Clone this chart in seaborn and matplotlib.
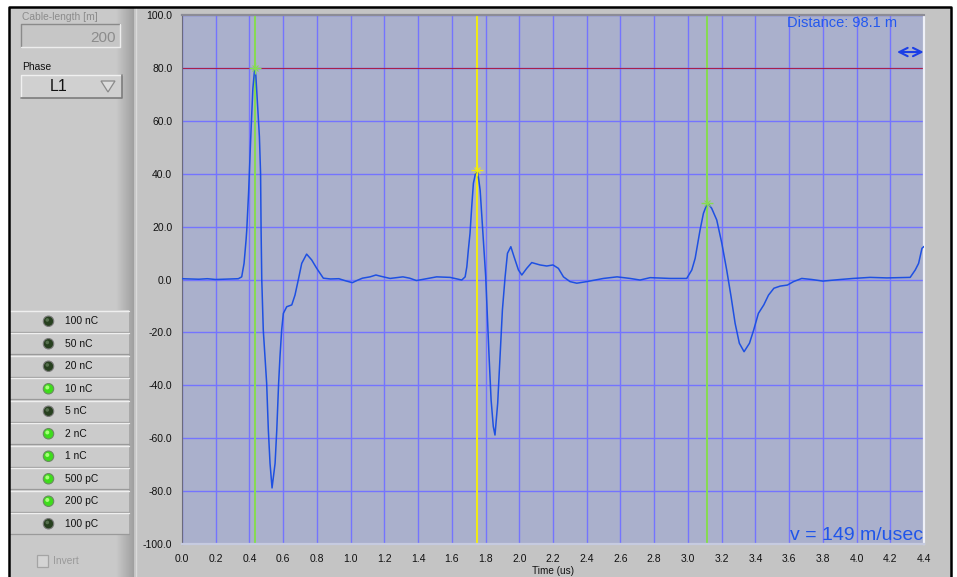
import matplotlib
matplotlib.use("Agg")
import matplotlib.pyplot as plt
import seaborn as sns
import numpy as np
from matplotlib.patches import Rectangle, Circle, Polygon
from matplotlib.colors import LinearSegmentedColormap
from matplotlib.ticker import MultipleLocator

# waveform (time in us, amplitude)
time_us = [0.000, 0.050, 0.100, 0.150, 0.200, 0.250, 0.300, 0.334, 0.354, 0.368,
           0.380, 0.384, 0.395, 0.407, 0.420, 0.431, 0.438, 0.446, 0.459, 0.466,
           0.469, 0.473, 0.482, 0.502, 0.512, 0.522, 0.534, 0.552, 0.562, 0.573,
           0.581, 0.591, 0.601, 0.621, 0.651, 0.670, 0.690, 0.710, 0.739, 0.769,
           0.799, 0.838, 0.880, 0.930, 0.970, 1.010, 1.040, 1.070, 1.115, 1.150,
           1.174, 1.234, 1.310, 1.350, 1.390, 1.450, 1.510, 1.590, 1.659, 1.679,
           1.689, 1.698, 1.708, 1.718, 1.728, 1.740, 1.752, 1.768, 1.778, 1.791,
           1.801, 1.811, 1.821, 1.833, 1.846, 1.856, 1.872, 1.886, 1.900, 1.916,
           1.930, 1.950, 1.969, 1.995, 2.015, 2.044, 2.074, 2.123, 2.163, 2.200,
           2.232, 2.262, 2.301, 2.341, 2.400, 2.499, 2.580, 2.657, 2.716, 2.776,
           2.894, 2.993, 3.023, 3.043, 3.072, 3.092, 3.116, 3.141, 3.171, 3.201,
           3.230, 3.256, 3.280, 3.305, 3.333, 3.365, 3.390, 3.418, 3.450, 3.478,
           3.510, 3.547, 3.590, 3.626, 3.675, 3.735, 3.800, 3.903, 3.980, 4.080,
           4.180, 4.318, 4.348, 4.368, 4.388, 4.400]
signal = [0.3, 0.2, 0.1, 0.3, 0.0, 0.1, 0.2, 0.3, 1.0, 6.1,
          15.0, 18.7, 33.0, 52.7, 72.0, 79.8, 77.0, 68.0, 54.0, 40.0,
          18.7, 0.0, -19.1, -39.2, -56.9, -69.5, -78.8, -69.5, -56.9, -39.2,
          -29.2, -19.1, -12.8, -10.3, -9.6, -5.9, 0.0, 6.1, 9.6, 7.4,
          4.2, 0.5, 0.2, 0.3, -0.5, -1.2, -0.3, 0.5, 1.0, 1.7,
          1.3, 0.4, 1.0, 0.5, -0.4, 0.3, 1.0, 0.8, -0.2, 1.0,
          4.8, 11.2, 17.5, 27.5, 36.4, 40.0, 41.4, 33.8, 23.7, 11.2,
          1.0, -14.0, -29.2, -45.6, -55.6, -58.8, -46.8, -29.2, -11.5, 1.0,
          9.9, 12.4, 8.6, 3.6, 1.7, 4.2, 6.4, 5.5, 5.1, 5.5,
          4.2, 1.0, -0.8, -1.4, -0.8, 0.4, 1.0, 0.4, -0.2, 0.7,
          0.4, 0.4, 3.6, 8.0, 18.7, 25.0, 29.0, 26.9, 22.5, 13.7,
          3.6, -6.5, -16.6, -24.1, -27.3, -24.1, -19.1, -12.8, -9.6, -5.9,
          -3.3, -2.5, -2.1, -0.8, 0.4, 0.0, -0.6, 0.0, 0.4, 0.8,
          0.6, 0.8, 3.6, 6.1, 11.8, 12.5]

cursor_t = [0.433, 1.752, 3.116]
cursor_v = [80.0, 41.4, 29.0]
cursor_colors = ['#86dc50', '#f2ec10', '#86dc50']
ref_level = 80.0

yticks = [-100, -80, -60, -40, -20, 0, 20, 40, 60, 80, 100]
xticks = [0.0, 0.2, 0.4, 0.6, 0.8, 1.0, 1.2, 1.4, 1.6, 1.8, 2.0, 2.2,
          2.4, 2.6, 2.8, 3.0, 3.2, 3.4, 3.6, 3.8, 4.0, 4.2, 4.4]

distance_text = 'Distance: 98.1 m'
velocity_text = 'v = 149 m/usec'
cable_length = '200'
phase = 'L1'
led_labels = ['100 nC', '50 nC', '20 nC', '10 nC', '5 nC',
              '2 nC', '1 nC', '500 pC', '200 pC', '100 pC']
led_on = [False, False, False, True, False, True, True, True, True, False]

sns.set_style("white")
plt.rcParams['font.family'] = ['Liberation Sans', 'DejaVu Sans']

fig = plt.figure(figsize=(9.57, 5.77), dpi=100, facecolor='white')

# ---- panel background (pixel coordinates, y down) ----
bg = fig.add_axes([0, 0, 1, 1], zorder=0)
bg.axis('off')

bg.add_patch(Rectangle((134, 7), 818, 575, fc='#c4c4c4', ec='none'))
bg.add_patch(Rectangle((10, 7), 124, 575, fc='#c9c9c9', ec='none'))
grad = LinearSegmentedColormap.from_list('g', ['#c9c9c9', '#a0a0a0'])
bg.imshow(np.linspace(0, 1, 32)[None, :], extent=(116, 134, 577, 7),
          cmap=grad, aspect='auto', zorder=1)
bg.plot([135.5, 135.5], [7, 577], color='#dadada', lw=1, zorder=2)
bg.plot([9, 9, 951, 951], [580, 6.5, 6.5, 580], color='black', lw=1.8, zorder=5)

# cable length box
bg.text(22, 17, 'Cable-length [m]', fontsize=7.4, color='#8c8c8c', va='center')
bg.add_patch(Rectangle((21, 24), 99, 23, fc='#c6c6c6', ec='none', zorder=2))
bg.plot([21, 21, 120], [47, 24, 24], color='#8a8a8a', lw=1, zorder=3)
bg.plot([21, 120, 120], [47, 47, 24], color='#ededed', lw=1, zorder=3)
bg.text(116, 38.5, cable_length, fontsize=11, color='#8c8c8c', ha='right', va='center', zorder=4)

# phase selector
bg.text(22, 67, 'Phase', fontsize=7.4, color='#111111', va='center')
bg.add_patch(Rectangle((21, 75), 101, 23, fc='#d0d0d0', ec='none', zorder=2))
bg.plot([21, 21, 122], [98, 75, 75], color='#f0f0f0', lw=1, zorder=3)
bg.plot([21, 122, 122], [98, 98, 75], color='#7c7c7c', lw=1.2, zorder=3)
bg.text(59, 86.5, phase, fontsize=11.5, color='#111111', ha='center', va='center', zorder=4)
bg.add_patch(Polygon([[101, 81], [115, 81], [108, 92]], closed=True,
                     fc='#dcdcdc', ec='#8a8a8a', lw=0.9, zorder=4))

# charge range buttons
row_h = 22.5
for i, (lab, on) in enumerate(zip(led_labels, led_on)):
    y0 = 310 + i * row_h
    bg.add_patch(Rectangle((10, y0), 119, row_h, fc='#cbcbcb', ec='none', zorder=2))
    bg.plot([10, 129], [y0 + 0.8, y0 + 0.8], color='#efefef', lw=1, zorder=3)
    bg.plot([10, 129], [y0 + row_h - 0.6, y0 + row_h - 0.6], color='#9a9a9a', lw=0.9, zorder=3)
    yc = y0 + row_h / 2
    if on:
        bg.add_patch(Circle((48.5, yc), 5.2, fc='#3edc1c', ec='#6a8a60', lw=0.8, zorder=4))
        bg.add_patch(Circle((47.3, yc - 1.3), 2.0, fc='#a8ff7a', ec='none', zorder=5))
    else:
        bg.add_patch(Circle((48.5, yc), 5.2, fc='#27401f', ec='#7a7a7a', lw=0.8, zorder=4))
        bg.add_patch(Circle((47.3, yc - 1.3), 1.8, fc='#56704e', ec='none', zorder=5))
    bg.text(65, yc, lab, fontsize=7.4, color='#111111', va='center', zorder=5)

# invert checkbox
bg.add_patch(Rectangle((37, 555), 11, 12, fc='#d4d4d4', ec='#a4a4a4', lw=0.9, zorder=3))
bg.text(53, 561.5, 'Invert', fontsize=7.4, color='#9a9a9a', va='center', zorder=4)

bg.set_xlim(0, 957)
bg.set_ylim(577, 0)

# ---- graph ----
ax = fig.add_axes([182 / 957, 33 / 577, 742 / 957, 529 / 577], zorder=1)
ax.set_facecolor('#aab0cc')
ax.set_axisbelow(True)

for t, c in zip(cursor_t, cursor_colors):
    ax.axvline(t, color=c, lw=1.4, zorder=2)
ax.axhline(ref_level, color='#a8204c', lw=0.8, zorder=2.5)

sns.lineplot(x=time_us, y=signal, ax=ax, color='#1e50e2', lw=1.1,
             estimator=None, sort=False, zorder=3)

for t, v, c in zip(cursor_t, cursor_v, cursor_colors):
    ax.plot(t, v, marker='+', ms=9, mew=1, color=c, zorder=4)
    ax.plot(t, v, marker='x', ms=5, mew=0.8, color=c, zorder=4)

ax.set_xlim(0, 4.4)
ax.set_ylim(-100, 100)
ax.set_xticks(xticks)
ax.set_xticklabels([f'{v:.1f}' for v in xticks])
ax.set_yticks(yticks)
ax.set_yticklabels([f'{v:.1f}' for v in yticks])
ax.xaxis.set_minor_locator(MultipleLocator(0.05))
ax.yaxis.set_minor_locator(MultipleLocator(2))
ax.grid(True, which='major', color='#7474ff', lw=1.0)
ax.tick_params(which='major', direction='out', length=4.5, width=0.9,
               labelsize=7.5, colors='#111111', pad=2.5)
ax.tick_params(which='minor', direction='out', length=2.4, width=0.9, colors='#222222')
ax.set_xlabel('Time (us)', fontsize=7.2, color='#111111', labelpad=2)
ax.set_ylabel('')

ax.spines['top'].set_color('#8c8c96')
ax.spines['top'].set_linewidth(1.6)
ax.spines['left'].set_color('#6a6a7c')
ax.spines['right'].set_color('#eef0f8')
ax.spines['right'].set_linewidth(1.6)
ax.spines['bottom'].set_color('#c6cbe0')
ax.spines['bottom'].set_linewidth(1.6)

ax.text(0.9636, 0.985, distance_text, transform=ax.transAxes, ha='right', va='center',
        fontsize=10.5, color='#2358ee', zorder=5)
ax.annotate('', xy=(0.9995, 0.930), xytext=(0.9636, 0.930), xycoords='axes fraction',
            arrowprops=dict(arrowstyle='<->', color='#1c3fe6', lw=1.5,
                            mutation_scale=15, shrinkA=0, shrinkB=0),
            annotation_clip=False, zorder=5)
ax.text(0.999, 0.008, velocity_text, transform=ax.transAxes, ha='right', va='baseline',
        fontsize=14, color='#1f55ea', zorder=5)

fig.savefig('out.png', dpi=100, facecolor='white')
